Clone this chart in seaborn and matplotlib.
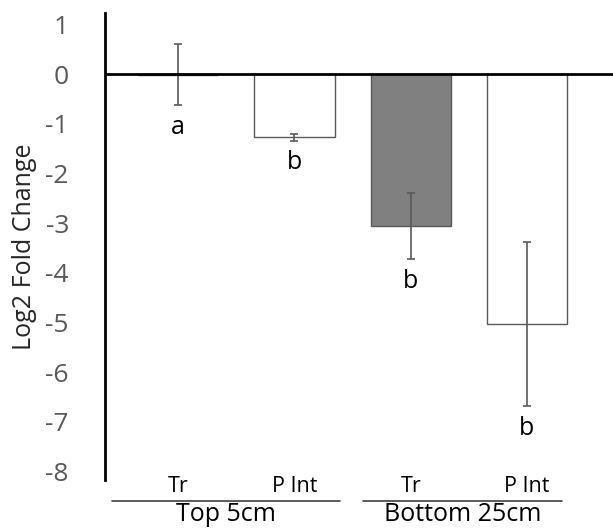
import pandas as pd
import numpy as np
import matplotlib
matplotlib.use("Agg")
import matplotlib.pyplot as plt
import seaborn as sns

# valores
amostras = ["Top Tr", "Top P Int", "Bottom Tr", "Bottom P Int"]
tratamentos = ["Tr", "P Int", "Tr", "P Int"]
profundidades = ["Top 5cm", "Bottom 25cm"]
log2_fc = [-0.01, -1.27, -3.06, -5.03]
erro = [0.62, 0.07, 0.67, 1.65]
letras = ["a", "b", "b", "b"]
cores = ["white", "white", "#808080", "white"]

df = pd.DataFrame({"amostra": amostras, "log2fc": log2_fc, "erro": erro})

sns.set_theme(style="white")
plt.rcParams["font.family"] = ["Open Sans", "DejaVu Sans"]
plt.rcParams["axes.unicode_minus"] = False

fig = plt.figure(figsize=(6.13, 5.29), dpi=100)
ax = fig.add_axes([105 / 613, 1 - 480 / 529, 1 - 105 / 613, 467 / 529])

sns.barplot(data=df, x="amostra", y="log2fc", hue="amostra", palette=cores,
            legend=False, width=0.69, edgecolor="#595959", linewidth=1,
            errorbar=None, ax=ax)

pos = np.arange(len(amostras))
ax.errorbar(pos, df["log2fc"], yerr=df["erro"], fmt="none", ecolor="#595959",
            elinewidth=1.2, capsize=3, capthick=1.2, zorder=3)

for i, (m, e, l) in enumerate(zip(log2_fc, erro, letras)):
    base = min(m - e, m)
    ax.text(i, base - 0.58, l, ha="center", va="baseline", fontsize=18, color="black")

ax.axhline(0, color="black", lw=2, zorder=5)

ax.set_ylim(-8.17, 1.23)
ax.set_xlim(-0.63, 3.74)
ax.set_yticks(range(-8, 2))
ax.tick_params(axis="y", labelsize=19, labelcolor="#595959", length=0, pad=26)
ax.set_ylabel("Log2 Fold Change", fontsize=18, color="#262626", labelpad=6)

ax.set_xticks(pos)
ax.set_xticklabels(tratamentos, fontsize=15.5, color="black")
ax.tick_params(axis="x", length=0, pad=-3)
ax.set_xlabel("")

for s in ["top", "right", "bottom"]:
    ax.spines[s].set_visible(False)
ax.spines["left"].set_color("black")
ax.spines["left"].set_linewidth(2)

# linhas e nomes dos grupos abaixo do eixo
trans = ax.get_xaxis_transform()
grupos_x = [(-0.57, 1.39), (1.59, 3.30)]
for (x0, x1), nome in zip(grupos_x, profundidades):
    ax.plot([x0, x1], [-0.044, -0.044], transform=trans, color="#404040",
            lw=1.2, clip_on=False)
    ax.text((x0 + x1) / 2, -0.047, nome, transform=trans, ha="center", va="top",
            fontsize=18, color="black")

fig.savefig("out.png", dpi=100)
plt.close()
